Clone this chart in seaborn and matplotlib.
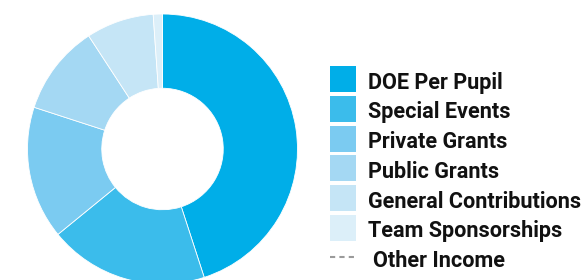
import matplotlib
matplotlib.use("Agg")
import matplotlib.pyplot as plt
import seaborn as sns
from matplotlib.patches import Rectangle
from matplotlib.lines import Line2D

categories = ["DOE Per Pupil", "Special Events", "Private Grants", "Public Grants",
              "General Contributions", "Team Sponsorships"]
shares = [45.0, 19.1, 15.9, 10.8, 8.1, 1.1]
colors = ["#00AEE8", "#3BBCEB", "#7BCBF1", "#A4D8F3", "#C5E5F6", "#DCEFF9"]
other_label = "Other Income"

sns.set_theme(style="white")
plt.rcParams["font.family"] = ["Roboto", "DejaVu Sans"]

W, H = 588, 280
fig = plt.figure(figsize=(W / 100, H / 100), dpi=100)

cx, cy, R = 162.5, 149, 135
ax = fig.add_axes([(cx - R) / W, (H - cy - R) / H, 2 * R / W, 2 * R / H])
ax.pie(shares, colors=colors, startangle=90, counterclock=False, radius=1.0,
       wedgeprops=dict(width=0.55, edgecolor="white", linewidth=0.6))
ax.set_xlim(-1, 1)
ax.set_ylim(-1, 1)
ax.set_aspect("equal")
ax.axis("off")

# legend
fx = lambda px: px / W
fy = lambda py: 1 - py / H
pitch = 29.8
fs = 15.6
for i, (lab, col) in enumerate(zip(categories, colors)):
    top = 66 + i * pitch
    fig.patches.append(Rectangle((fx(330), fy(top + 26)), 26 / W, 26 / H,
                                 transform=fig.transFigure, facecolor=col,
                                 edgecolor="none"))
    fig.text(fx(368), fy(88.5 + i * pitch), lab, fontsize=fs, fontweight="bold",
             color="#111111", va="baseline", ha="left")

ly = 66 + 6 * pitch + 12
fig.lines.append(Line2D([fx(330), fx(356)], [fy(ly), fy(ly)], transform=fig.transFigure,
                        color="#9a9a9a", linewidth=1.5, linestyle=(0, (2.5, 2))))
fig.text(fx(373), fy(88.5 + 6 * pitch), other_label, fontsize=fs, fontweight="bold",
         color="#111111", va="baseline", ha="left")

fig.savefig("out.png", dpi=100)
